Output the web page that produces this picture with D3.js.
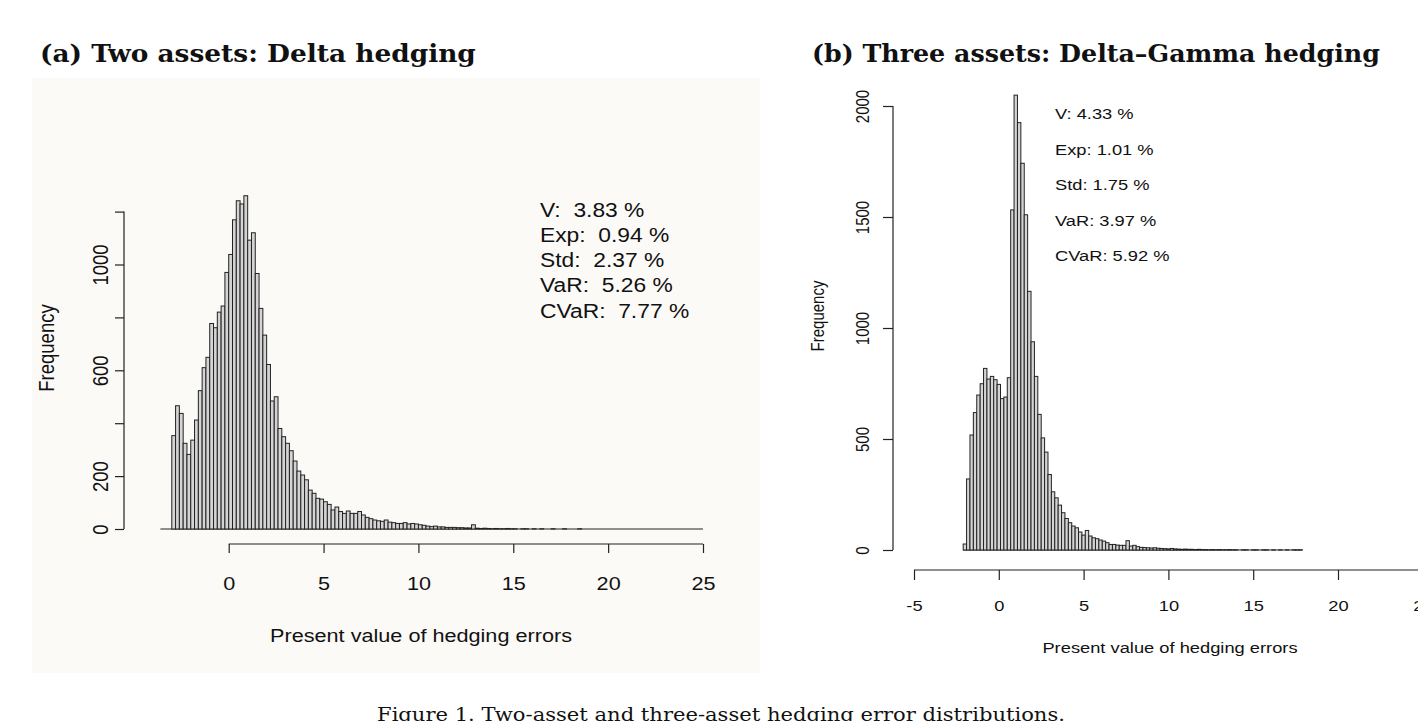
<!DOCTYPE html>
<html>
<head>
<meta charset="utf-8">
<script src="https://cdn.jsdelivr.net/npm/d3@7"></script>
<style>
  body { margin: 0; background: #fff; }
  svg { display: block; }
  text { font-family: "Liberation Sans", Arial, sans-serif; fill: #111; }
  .title { font-family: "DejaVu Serif", serif; font-weight: bold; }
  .caption { font-family: "DejaVu Serif", serif; }
  .stat { white-space: pre; }
</style>
</head>
<body>
<div id="chart"></div>
<script>
// ---- data (histogram counts, bins of width 0.2) ----
var binWidth = 0.2;

// (a) two assets, delta hedging: first bin starts at -3.6
var leftStart = -3.6;
var leftCounts = [0, 0, 0,
  353, 466, 437, 324, 282, 336, 412, 523, 610, 649,
  777, 761, 820, 843, 970, 1038, 1169, 1241, 1229, 1260,
  1092, 1120, 966, 834, 733, 622, 484, 500, 380, 349,
  324, 296, 257, 219, 204, 186, 147, 135, 116, 113,
  103, 93, 72, 83, 66, 59, 68, 59, 59, 66,
  53, 44, 39, 34, 31, 29, 34, 26, 24, 21,
  21, 24, 19, 21, 19, 16, 14, 11, 9, 11,
  8, 8, 6, 6, 6, 5, 5, 4, 4, 16,
  3, 2, 3, 2, 1, 2, 1, 1, 2, 1,
  1, 0, 1, 1, 0, 1, 0, 1, 0, 0,
  1, 0, 0, 1, 0, 0, 0, 1, 0, 0,
  0, 0, 0, 0, 0, 0, 0, 0, 0, 0,
  0, 0, 0, 0, 0, 0, 0, 0, 0, 0,
  0, 0, 0, 0, 0, 0, 0, 0, 0, 0];
var leftXTicks = [0, 5, 10, 15, 20, 25];
var leftYTicks = [0, 200, 400, 600, 800, 1000, 1200];
var leftYLabels = [0, 200, 600, 1000];
var leftStats = ["V:  3.83 %", "Exp:  0.94 %", "Std:  2.37 %", "VaR:  5.26 %", "CVaR:  7.77 %"];

// (b) three assets, delta-gamma hedging: first bin starts at -2.1
var rightStart = -2.1;
var rightCounts = [27, 320, 518, 619, 698, 749, 818, 770, 782, 767,
  746, 682, 689, 776, 1532, 2049, 1925, 1742, 1510, 1165,
  938, 782, 611, 505, 441, 340, 262, 235, 202, 168,
  142, 123, 108, 100, 81, 67, 88, 63, 55, 51,
  45, 40, 33, 25, 25, 22, 21, 21, 42, 18,
  21, 15, 12, 11, 10, 9, 10, 8, 7, 6,
  5, 7, 5, 4, 3, 4, 3, 3, 2, 3,
  2, 2, 1, 2, 1, 2, 1, 1, 2, 1,
  1, 0, 1, 1, 0, 1, 1, 0, 1, 1,
  0, 1, 0, 1, 0, 1, 0, 1, 1, 1];
var rightXTicks = [-5, 0, 5, 10, 15, 20, 25];
var rightYTicks = [0, 500, 1000, 1500, 2000];
var rightStats = ["V: 4.33 %", "Exp: 1.01 %", "Std: 1.75 %", "VaR: 3.97 %", "CVaR: 5.92 %"];

var xLabel = "Present value of hedging errors";
var yLabel = "Frequency";

var W = 1418, H = 721;
var svg = d3.select("#chart").append("svg").attr("width", W).attr("height", H);
svg.append("rect").attr("width", W).attr("height", H).attr("fill", "#fff");

// make bins from start + counts
function toBins(start, counts) {
  return counts.map(function(c, i) {
    return {x0: start + i * binWidth, x1: start + (i + 1) * binWidth, n: c};
  });
}

// the figures in the paper are stretched sideways, so text gets a scaleX
function panel(o) {
  var g = svg.append("g");
  var bins = toBins(o.start, o.counts);
  var x = d3.scaleLinear().domain(o.xDom).range(o.xRange);
  var y = d3.scaleLinear().domain(o.yDom).range(o.yRange);

  // zero-count bins show as a flat line at the baseline
  g.append("line")
    .attr("x1", x(bins[0].x0)).attr("x2", x(bins[bins.length - 1].x1))
    .attr("y1", y(0)).attr("y2", y(0))
    .attr("stroke", "#222").attr("stroke-width", 1.2);

  g.selectAll("rect.bar")
    .data(bins.filter(function(d) { return d.n > 0; }))
    .enter().append("rect")
    .attr("class", "bar")
    .attr("x", function(d) { return x(d.x0); })
    .attr("width", function(d) { return x(d.x1) - x(d.x0); })
    .attr("y", function(d) { return y(d.n); })
    .attr("height", function(d) { return y(0) - y(d.n); })
    .attr("fill", "#d4d4d4")
    .attr("stroke", "#222")
    .attr("stroke-width", 1);

  // x axis, line only between first and last tick like R
  var xa = g.append("g")
    .attr("transform", "translate(0," + o.xAxisY + ")")
    .call(d3.axisBottom(x).tickValues(o.xTicks).tickSize(o.tick).tickSizeOuter(0)
      .tickFormat(function(d) { return d < 0 ? "-" + Math.abs(d) : d; }));
  xa.select(".domain")
    .attr("d", "M" + x(o.xTicks[0]) + ",0H" + x(o.xTicks[o.xTicks.length - 1]));
  xa.selectAll("text")
    .attr("y", o.xLabOff).attr("dy", "0.35em")
    .attr("transform", "scale(" + o.sx + ",1)")
    .style("font-size", o.fs + "px").style("font-family", null);

  var ya = g.append("g")
    .attr("transform", "translate(" + o.yAxisX + ",0)")
    .call(d3.axisLeft(y).tickValues(o.yTicks).tickSize(o.tick).tickSizeOuter(0)
      .tickFormat(function(d) { return o.yLabels.indexOf(d) >= 0 ? d : ""; }));
  ya.select(".domain")
    .attr("d", "M0," + y(o.yTicks[0]) + "V" + y(o.yTicks[o.yTicks.length - 1]));
  ya.selectAll("text")
    .attr("x", 0).attr("y", 0).attr("dy", "0.35em")
    .attr("text-anchor", "middle")
    .attr("transform", "translate(" + (-o.yLabOff) + ",0) scale(" + o.sx + ",1) rotate(-90)")
    .style("font-size", o.fs + "px").style("font-family", null);

  g.selectAll(".domain, .tick line").attr("stroke", "#222").attr("stroke-width", 1.2);

  g.append("text")
    .attr("transform", "translate(" + o.xTitle[0] + "," + o.xTitle[1] + ") scale(" + o.sx + ",1)")
    .attr("dy", "0.35em")
    .attr("text-anchor", "middle").style("font-size", o.fs + "px")
    .text(xLabel);
  g.append("text")
    .attr("transform", "translate(" + o.yTitle[0] + "," + o.yTitle[1] + ") scale(" + o.sx + ",1) rotate(-90)")
    .attr("dy", "0.35em").attr("text-anchor", "middle").style("font-size", o.fs + "px")
    .text(yLabel);

  g.selectAll("text.stat")
    .data(o.stats)
    .enter().append("text")
    .attr("class", "stat")
    .attr("transform", function(d, i) {
      return "translate(" + o.statX + "," + (o.statY + i * o.statGap) + ") scale(" + o.sx + ",1)";
    })
    .attr("dy", "0.35em")
    .style("font-size", o.statFs + "px")
    .text(function(d) { return d; });
}

// left panel has a faint scanned background
svg.append("rect").attr("x", 32).attr("y", 78).attr("width", 728).attr("height", 595)
  .attr("fill", "#fbfaf7");

panel({
  start: leftStart, counts: leftCounts,
  xDom: [0, 25], xRange: [228.7, 703],
  yDom: [0, 1200], yRange: [529, 211.6],
  xTicks: leftXTicks, yTicks: leftYTicks, yLabels: leftYLabels,
  xAxisY: 544, yAxisX: 124, tick: 9, xLabOff: 40, yLabOff: 24, fs: 18.5, sx: 1.17,
  xTitle: [421, 636], yTitle: [46, 348],
  stats: leftStats, statX: 540, statY: 210, statGap: 25.2, statFs: 19.5
});

panel({
  start: rightStart, counts: rightCounts,
  xDom: [-5, 25], xRange: [914, 1422.8],
  yDom: [0, 2000], yRange: [550, 106],
  xTicks: rightXTicks, yTicks: rightYTicks, yLabels: rightYTicks,
  xAxisY: 570, yAxisX: 893, tick: 10, xLabOff: 36, yLabOff: 30, fs: 15, sx: 1.22,
  xTitle: [1170, 648], yTitle: [818, 316],
  stats: rightStats, statX: 1055, statY: 114, statGap: 35.5, statFs: 15
});

svg.append("text").attr("class", "title")
  .attr("transform", "translate(40,62) scale(1.1,1)")
  .style("font-size", "24px").text("(a) Two assets: Delta hedging");
svg.append("text").attr("class", "title")
  .attr("transform", "translate(812,62) scale(1.055,1)")
  .style("font-size", "24px").text("(b) Three assets: Delta\u2013Gamma hedging");
svg.append("text").attr("class", "caption")
  .attr("transform", "translate(377,721) scale(1.11,1)")
  .style("font-size", "19px")
  .text("Figure 1. Two-asset and three-asset hedging error distributions.");
</script>
</body>
</html>
